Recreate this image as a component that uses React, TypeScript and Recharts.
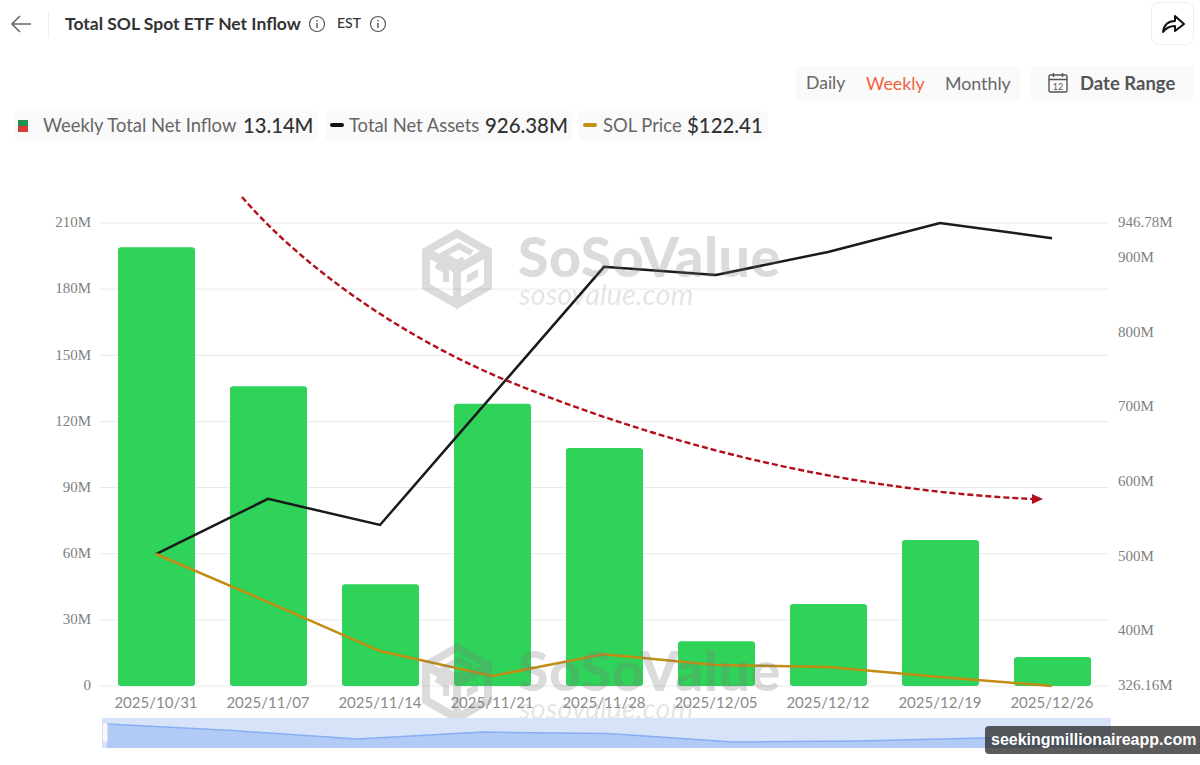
import React from "react";
import {
  ComposedChart, Bar, Line, XAxis, YAxis, CartesianGrid,
  AreaChart, Area,
} from "recharts";

const dates = [
  "2025/10/31", "2025/11/07", "2025/11/14", "2025/11/21", "2025/11/28",
  "2025/12/05", "2025/12/12", "2025/12/19", "2025/12/26",
];
const netInflow = [199, 136, 46.2, 128, 108, 20.3, 37.2, 66.2, 13.14];
const netAssets = [503, 577, 542, 715, 888, 877, 908, 946.78, 926.38];
const solPrice = [187, 163.5, 139.5, 127.3, 138, 132.7, 131.7, 126.8, 122.41];
const navigatorValues = [80, 58, 30, 53, 48, 20, 23, 33, 33];

const leftTicks = [0, 30, 60, 90, 120, 150, 180, 210];
const rightTicks = [326.16, 400, 500, 600, 700, 800, 900, 946.78];

const chartData = dates.map((d, i) => ({
  date: d,
  inflow: netInflow[i],
  assets: netAssets[i],
  price: solPrice[i],
}));
const navData = navigatorValues.map((v, i) => ({ i, v }));

const LATO = "Lato, sans-serif";
const SERIF = "'Liberation Serif', serif";

function Abs({ x, y, w, h, style, children }: any) {
  return (
    <div style={{ position: "absolute", left: x, top: y, width: w, height: h, ...style }}>
      {children}
    </div>
  );
}

function Txt({ x, y, size, color, weight, children }: any) {
  return (
    <span style={{
      position: "absolute", left: x, top: y, fontSize: size, color, fontWeight: weight ?? 400,
      fontFamily: LATO, lineHeight: "20px", whiteSpace: "nowrap",
    }}>
      {children}
    </span>
  );
}

function InfoIcon({ x, y }: { x: number; y: number }) {
  return (
    <svg style={{ position: "absolute", left: x, top: y }} width="18" height="18" viewBox="0 0 18 18">
      <circle cx="9" cy="9" r="7.5" fill="none" stroke="#555" strokeWidth="1.2" />
      <path d="M9 8v5M9 5v1.4" stroke="#555" strokeWidth="1.4" />
    </svg>
  );
}

function Watermark({ x, y }: { x: number; y: number }) {
  const c = "#787878";
  return (
    <g transform={`translate(${x},${y})`}>
      <g opacity="0.26">
        <path
          fillRule="evenodd"
          fill={c}
          d="M35 0 L70 20 V60 L35 80 L0 60 V20 Z
             M35 9 L12 22 L32 34 L38 34 L58 22 Z
             M8 30 V55 L31 68 V43 Z
             M62 30 L39 43 V68 L62 55 Z"
        />
        <path d="M50 24 L37 17 L21 26 L35 34 L42 30" fill="none" stroke={c} strokeWidth="6" />
        <path d="M14 36 L24 42 V53" fill="none" stroke={c} strokeWidth="6" />
        <path d="M45 46 L56 40 V48 L45 54 Z" fill={c} />
        <text x="96" y="48" fontFamily={LATO} fontWeight="900" fontSize="55.5" fill={c} letterSpacing="0.5">SoSoValue</text>
      </g>
      <text x="97" y="76" fontFamily={LATO} fontStyle="italic" fontSize="29" fill="rgba(120,120,120,0.2)">sosovalue.com</text>
    </g>
  );
}

export default function App() {
  return (
    <div style={{ position: "absolute", left: 0, top: 0, width: 1200, height: 765, background: "#fff", overflow: "hidden" }}>
      {/* header */}
      <svg style={{ position: "absolute", left: 10, top: 14 }} width="24" height="20" viewBox="0 0 24 20">
        <path d="M21 10H2M10 2l-8 8 8 8" fill="none" stroke="#666" strokeWidth="1.6" />
      </svg>
      <Abs x={48} y={12} w={1} h={26} style={{ background: "#eee" }} />
      <Txt x={65} y={14} size={17.5} color="#333" weight={700}>Total SOL Spot ETF Net Inflow</Txt>
      <InfoIcon x={308} y={15} />
      <Txt x={337} y={13} size={14} color="#333" weight={500}>EST</Txt>
      <InfoIcon x={369} y={15} />
      <Abs x={1151} y={2} w={43} h={43} style={{ border: "1px solid #eee", borderRadius: 8, boxSizing: "border-box" }}>
        <svg width="41" height="41" viewBox="0 0 41 41">
          <path d="M11 29c1-7 5-11 12-11v-5l9 8-9 7v-5c-5 0-9 2-12 6z" fill="none" stroke="#111" strokeWidth="2" strokeLinejoin="round" />
        </svg>
      </Abs>

      {/* range switch */}
      <Abs x={796} y={66} w={224} h={34} style={{ background: "#fafafa", borderRadius: 4 }} />
      <Txt x={806} y={73} size={17.6} color="#666">Daily</Txt>
      <Txt x={866} y={73} size={17.8} color="#f2603c">Weekly</Txt>
      <Txt x={945} y={73} size={17.8} color="#666">Monthly</Txt>
      <Abs x={1031} y={66} w={163} h={34} style={{ background: "#fafafa", borderRadius: 4 }} />
      <svg style={{ position: "absolute", left: 1047, top: 72 }} width="22" height="22" viewBox="0 0 22 22">
        <rect x="2" y="3" width="18" height="17" rx="1.5" fill="none" stroke="#555" strokeWidth="1.4" />
        <path d="M2 7.5h18M6.5 1v4M15.5 1v4" stroke="#555" strokeWidth="1.4" />
        <text x="11" y="17.5" textAnchor="middle" fontSize="9" fontFamily={LATO} fill="#555">12</text>
      </svg>
      <Txt x={1080} y={73} size={18.5} color="#555" weight={700}>Date Range</Txt>

      {/* legend */}
      <Abs x={14} y={111} w={304} h={29} style={{ background: "#fafafa", borderRadius: 3 }} />
      <Abs x={18} y={120} w={10} h={6} style={{ background: "#1f8f4d" }} />
      <Abs x={18} y={126} w={10} h={6} style={{ background: "#d83a34" }} />
      <Txt x={43} y={115} size={18.4} color="#666">Weekly Total Net Inflow</Txt>
      <Txt x={243} y={115} size={20.2} color="#333" weight={500}>13.14M</Txt>
      <Abs x={325} y={111} w={247} h={29} style={{ background: "#fafafa", borderRadius: 3 }} />
      <Abs x={330} y={123} w={14} h={4} style={{ background: "#111", borderRadius: 2 }} />
      <Txt x={349} y={115} size={18.4} color="#666">Total Net Assets</Txt>
      <Txt x={485} y={115} size={20.4} color="#333" weight={500}>926.38M</Txt>
      <Abs x={579} y={111} w={189} h={29} style={{ background: "#fafafa", borderRadius: 3 }} />
      <Abs x={583} y={123} w={14} h={4} style={{ background: "#c8900f", borderRadius: 2 }} />
      <Txt x={603} y={115} size={18.4} color="#666">SOL Price</Txt>
      <Txt x={687} y={115} size={20.4} color="#333" weight={500}>$122.41</Txt>

      {/* main chart */}
      <Abs x={0} y={0} w={1200} h={765}>
        <ComposedChart
          width={1200}
          height={765}
          data={chartData}
          margin={{ top: 223, right: 0, bottom: 0, left: 0 }}
        >
          <CartesianGrid yAxisId="left" horizontal vertical={false} stroke="#e9e9e9" />
          <XAxis
            dataKey="date"
            height={79}
            axisLine={false}
            tickLine={false}
            tickMargin={5}
            interval={0}
            tick={{ fontSize: 15, fontFamily: LATO, fill: "#8a8a8a" }}
          />
          <YAxis
            yAxisId="left"
            width={100}
            domain={[0, 210]}
            ticks={leftTicks}
            tickFormatter={(v) => (v === 0 ? "0" : `${v}M`)}
            axisLine={false}
            tickLine={false}
            tickSize={0}
            tickMargin={9}
            tick={{ fontSize: 15, fontFamily: SERIF, fill: "#808080", dy: -1 }}
          />
          <YAxis
            yAxisId="right"
            orientation="right"
            width={92}
            domain={[326.16, 946.78]}
            ticks={rightTicks}
            tickFormatter={(v) => `${v}M`}
            axisLine={false}
            tickLine={false}
            tickSize={0}
            tickMargin={10}
            tick={{ fontSize: 15, fontFamily: SERIF, fill: "#808080", dy: -1 }}
          />
          <YAxis yAxisId="price" hide domain={[122.41, 349]} />
          <Bar yAxisId="left" dataKey="inflow" fill="#2fd35a" radius={3} barSize={77} isAnimationActive={false} />
          <Line yAxisId="right" dataKey="assets" type="linear" stroke="#1a1a1a" strokeWidth={2.5} dot={false} isAnimationActive={false} />
          <Line yAxisId="price" dataKey="price" type="linear" stroke="#c28d12" strokeWidth={2.5} dot={false} isAnimationActive={false} />
        </ComposedChart>
      </Abs>

      {/* watermarks and annotation */}
      <svg style={{ position: "absolute", left: 0, top: 0, pointerEvents: "none" }} width="1200" height="765">
        <Watermark x={422} y={229} />
        <Watermark x={422} y={643} />
        <path
          d="M242 197 C 305 270, 405 338, 503 379 C 680 452, 860 491, 1033 499"
          fill="none"
          stroke="#b30f1a"
          strokeWidth="2.4"
          strokeDasharray="6 3"
        />
        <polygon points="1032,494 1043,499 1032,504" fill="#b30f1a" />
      </svg>

      {/* navigator */}
      <Abs x={102} y={718} w={1009} h={30} style={{ background: "#d6e3f9" }}>
        <AreaChart width={1009} height={30} data={navData} margin={{ top: 0, right: 2, bottom: 0, left: 5 }}>
          <XAxis dataKey="i" hide />
          <YAxis hide domain={[0, 100]} />
          <Area dataKey="v" type="linear" stroke="#8aaef2" strokeWidth={1.5} fill="#b2cbf6" fillOpacity={1} isAnimationActive={false} />
        </AreaChart>
      </Abs>
      <Abs x={102} y={722} w={6} h={21} style={{ background: "#f7f8fc", border: "1px solid #dde", borderRadius: 3, boxSizing: "border-box" }} />

      {/* site badge */}
      <Abs x={985} y={726} w={215} h={28} style={{ background: "rgba(45,45,45,0.78)", borderRadius: "4px 0 0 4px" }} />
      <span style={{
        position: "absolute", left: 991, top: 730, fontFamily: "'Liberation Sans', sans-serif",
        fontWeight: 700, fontSize: 16, lineHeight: "20px", color: "#fff", whiteSpace: "nowrap",
      }}>
        seekingmillionaireapp.com
      </span>
    </div>
  );
}
